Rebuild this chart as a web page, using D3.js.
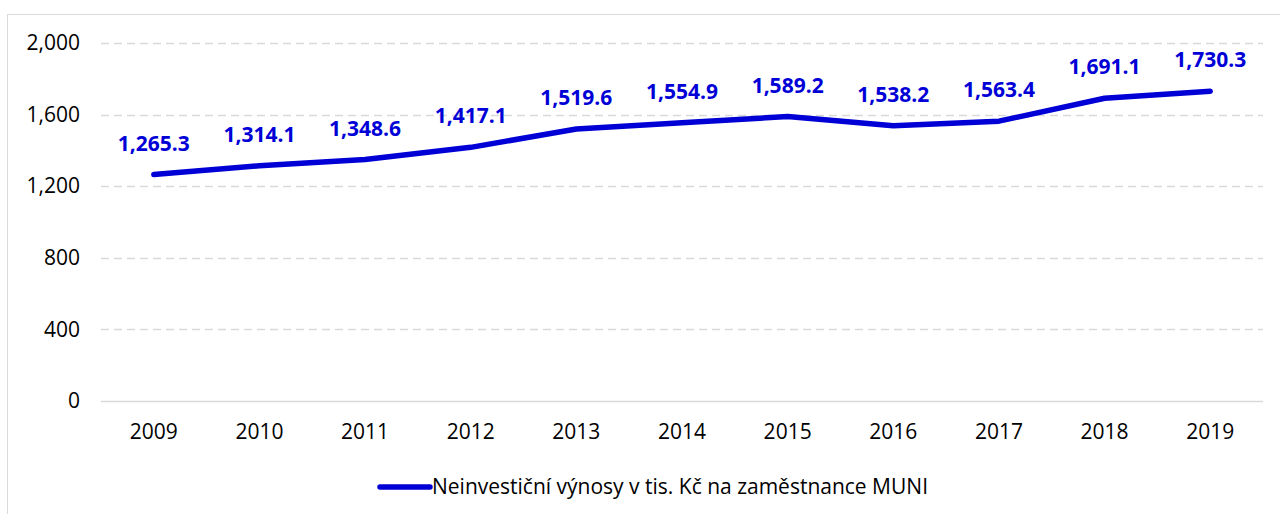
<!DOCTYPE html>
<html>
<head>
<meta charset="utf-8">
<script src="https://cdn.jsdelivr.net/npm/d3@7"></script>
<style>
  body { margin: 0; background: #fff; }
  svg { display: block; font-family: "Open Sans", sans-serif; }
</style>
</head>
<body>
<div class="chart"></div>
<script>
var svgWidth = 1280;
var svgHeight = 514;

// data
var years = ["2009", "2010", "2011", "2012", "2013", "2014", "2015", "2016", "2017", "2018", "2019"];
var revenue = [1265.3, 1314.1, 1348.6, 1417.1, 1519.6, 1554.9, 1589.2, 1538.2, 1563.4, 1691.1, 1730.3];
var yTicks = [0, 400, 800, 1200, 1600, 2000];
var seriesName = "Neinvestiční výnosy v tis. Kč na zaměstnance MUNI";

var margin = { top: 43, right: 17, bottom: 113, left: 101 };
var width = svgWidth - margin.left - margin.right;
var height = svgHeight - margin.top - margin.bottom;

var lineColor = "#0000d6";
var gridColor = "#d9d9d9";

var svg = d3.select(".chart")
  .append("svg")
  .attr("width", svgWidth)
  .attr("height", svgHeight);

// chart border
svg.append("rect")
  .attr("x", 7.5)
  .attr("y", 14.5)
  .attr("width", svgWidth)
  .attr("height", svgHeight)
  .attr("fill", "none")
  .attr("stroke", gridColor)
  .attr("stroke-width", 1);

var chartGroup = svg.append("g")
  .attr("transform", `translate(${margin.left}, ${margin.top})`);

var x = d3.scaleBand()
  .domain(years)
  .range([0, width]);

var y = d3.scaleLinear()
  .domain([0, 2000])
  .range([height, 0]);

// gridlines
chartGroup.selectAll(".grid")
  .data(yTicks)
  .enter()
  .append("line")
  .attr("class", "grid")
  .attr("x1", 0)
  .attr("x2", width)
  .attr("y1", d => Math.round(y(d)) + 0.5)
  .attr("y2", d => Math.round(y(d)) + 0.5)
  .attr("stroke", gridColor)
  .attr("stroke-width", 1.5)
  .attr("stroke-dasharray", d => d === 0 ? null : "8,5");

// y axis labels
var leftAxis = d3.axisLeft(y).tickValues(yTicks).tickSize(0).tickPadding(21)
  .tickFormat(d3.format(","));
var gy = chartGroup.append("g").call(leftAxis);
gy.select(".domain").remove();
gy.selectAll("text")
  .attr("font-size", 21)
  .attr("font-family", "Open Sans")
  .attr("fill", "#000");

// x axis labels
var bottomAxis = d3.axisBottom(x).tickSize(0).tickPadding(23);
var gx = chartGroup.append("g")
  .attr("transform", `translate(0, ${height})`)
  .call(bottomAxis);
gx.select(".domain").remove();
gx.selectAll("text")
  .attr("font-size", 21)
  .attr("font-family", "Open Sans")
  .attr("fill", "#000");

// line
var line = d3.line()
  .x((d, i) => x(years[i]) + x.bandwidth() / 2)
  .y(d => y(d));

chartGroup.append("path")
  .datum(revenue)
  .attr("d", line)
  .attr("fill", "none")
  .attr("stroke", lineColor)
  .attr("stroke-width", 5.5)
  .attr("stroke-linecap", "round")
  .attr("stroke-linejoin", "round");

// data labels
chartGroup.selectAll(".label")
  .data(revenue)
  .enter()
  .append("text")
  .attr("class", "label")
  .attr("x", (d, i) => x(years[i]) + x.bandwidth() / 2)
  .attr("y", d => y(d) - 24)
  .attr("text-anchor", "middle")
  .attr("font-size", 21)
  .attr("font-weight", "bold")
  .attr("fill", lineColor)
  .text(d => d3.format(",.1f")(d));

// legend
var legend = svg.append("g")
  .attr("transform", "translate(378, 487)");

legend.append("line")
  .attr("x1", 2)
  .attr("x2", 52)
  .attr("y1", 0)
  .attr("y2", 0)
  .attr("stroke", lineColor)
  .attr("stroke-width", 5.5)
  .attr("stroke-linecap", "round");

legend.append("text")
  .attr("x", 54)
  .attr("y", 0)
  .attr("dy", "0.35em")
  .attr("font-size", 21)
  .attr("fill", "#000")
  .text(seriesName);
</script>
</body>
</html>
